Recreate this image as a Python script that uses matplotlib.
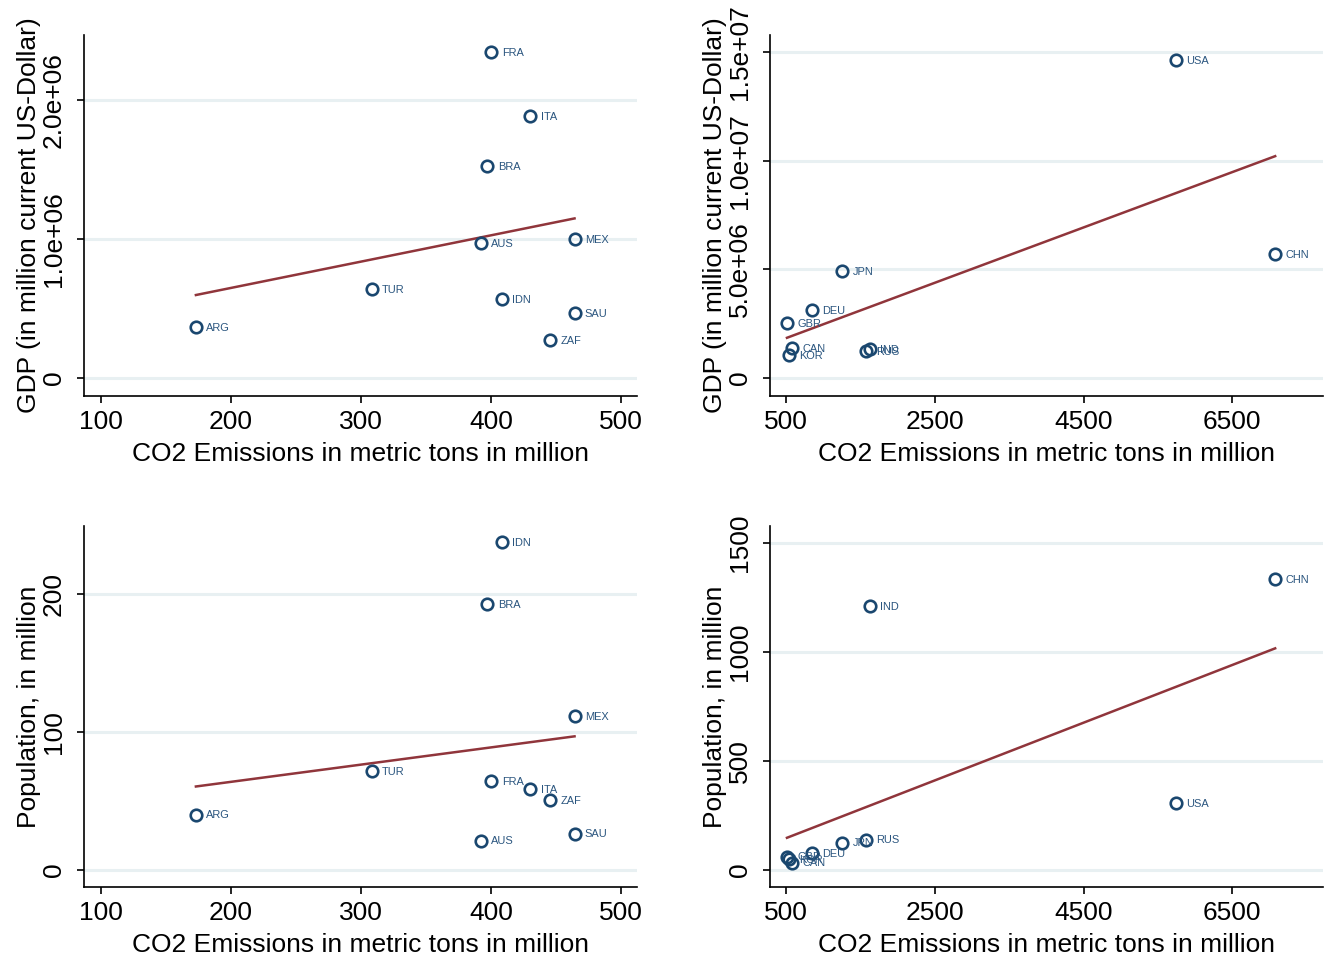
import numpy as np
import matplotlib
matplotlib.use("Agg")
import matplotlib.pyplot as plt

plt.rcParams['font.family'] = ['Liberation Sans', 'DejaVu Sans']

# smaller emitters (left column)
small_cty = ["FRA", "ITA", "BRA", "AUS", "MEX", "TUR", "IDN", "SAU", "ZAF", "ARG"]
small_co2 = [400, 430, 397, 392, 464, 308, 408, 464, 445, 173]
small_gdp = [2.345e6, 1.885e6, 1.525e6, 0.971e6, 1.0e6, 0.64e6, 0.568e6, 0.468e6, 0.273e6, 0.367e6]
small_pop = [64.2, 58.4, 192.7, 21.2, 111.7, 71.5, 238.0, 26.3, 50.4, 40.1]

# large emitters (right column)
big_cty = ["USA", "CHN", "JPN", "DEU", "GBR", "CAN", "KOR", "IND", "RUS"]
big_co2 = [5745, 7077, 1253, 850, 513, 581, 540, 1630, 1576]
big_gdp = [14.63e6, 5.70e6, 4.92e6, 3.13e6, 2.53e6, 1.38e6, 1.06e6, 1.33e6, 1.24e6]
big_pop = [305, 1334, 125, 78.5, 61, 33, 49, 1210, 139]

xlab = "CO2 Emissions in metric tons in million"
gdp_lab = "GDP (in million current US-Dollar)"
pop_lab = "Population, in million"

NAVY = "#1a476f"
LABEL = "#2a557f"
MAROON = "#90353b"
GRID = "#e8f0f2"

W, H = 1325, 959
fig = plt.figure(figsize=(W / 100, H / 100), dpi=100)


def panel(px_left, px_top, x, y, names, xlim, ylim, xticks, yticks, yticklabels, ylabel):
    ax = fig.add_axes([px_left / W, (H - 396 - px_top) / H, 553 / W, 361 / H])
    for yt in yticks:
        ax.axhline(yt, color=GRID, lw=2.2, zorder=0)
    ax.plot(x, y, 'o', mfc='none', mec=NAVY, mew=1.9, ms=8.3, zorder=3)
    for xi, yi, n in zip(x, y, names):
        ax.annotate(n, (xi, yi), xytext=(7.5, -0.5), textcoords='offset points',
                    va='center', ha='left', fontsize=7.9, color=LABEL, zorder=4)
    # linear fit line over the data range
    b, a = np.polyfit(x, y, 1)
    xs = np.array([min(x), max(x)])
    ax.plot(xs, a + b * xs, color=MAROON, lw=1.8, zorder=2)
    ax.set_xlim(*xlim)
    ax.set_ylim(*ylim)
    ax.set_xticks(xticks)
    ax.set_yticks(yticks)
    ax.set_yticklabels(yticklabels, rotation=90, va='center')
    ax.tick_params(labelsize=19, length=5, width=1.2, color='black')
    ax.tick_params(axis='y', pad=8)
    ax.tick_params(axis='x', pad=5)
    for s in ['top', 'right']:
        ax.spines[s].set_visible(False)
    for s in ['left', 'bottom']:
        ax.spines[s].set_linewidth(1.2)
    ax.set_xlabel(xlab, fontsize=19, labelpad=6)
    ax.set_ylabel(ylabel, fontsize=19, labelpad=1)
    return ax


panel(84, 0, small_co2, small_gdp, small_cty, (87, 512), (-0.13e6, 2.468e6),
      [100, 200, 300, 400, 500], [0, 1e6, 2e6], ["0", "1.0e+06", "2.0e+06"], gdp_lab)
panel(770, 0, big_co2, big_gdp, big_cty, (285, 7720), (-0.83e6, 15.78e6),
      [500, 2500, 4500, 6500], [0, 5e6, 1e7, 1.5e7], ["0", "5.0e+06", "1.0e+07", "1.5e+07"], gdp_lab)
panel(84, 491, small_co2, small_pop, small_cty, (87, 512), (-12.4, 249.6),
      [100, 200, 300, 400, 500], [0, 100, 200], ["0", "100", "200"], pop_lab)
panel(770, 491, big_co2, big_pop, big_cty, (285, 7720), (-78.5, 1579),
      [500, 2500, 4500, 6500], [0, 500, 1000, 1500], ["0", "500", "1000", "1500"], pop_lab)

fig.savefig("out.png", dpi=100)
